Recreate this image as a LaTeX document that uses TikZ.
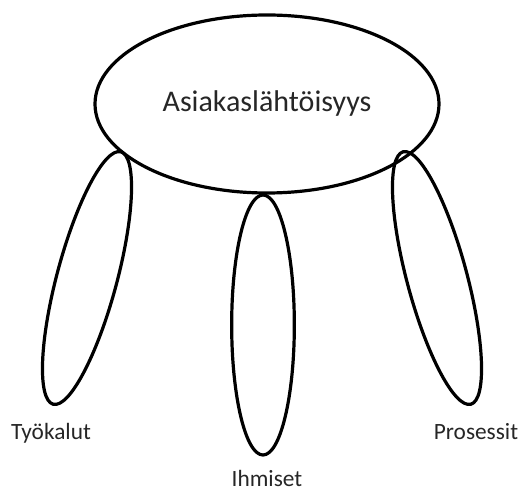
\documentclass[tikz,border=0pt]{standalone}
\usepackage{fontspec}
\setmainfont{Carlito}
\usetikzlibrary{shapes.geometric}

\tikzset{
  oval/.style={draw, ellipse, line width=2.4pt, inner sep=0pt},
  legtext/.style={anchor=base, font=\fontsize{17.5pt}{20pt}\selectfont, text=black!85}
}

\begin{document}
\begin{tikzpicture}[x=0.75pt,y=-0.75pt]
        \useasboundingbox (0,0) rectangle (531,491);
        \node[oval, minimum width=258pt, minimum height=133.5pt, font=\fontsize{22.5pt}{26pt}\selectfont, text=black!85] (asiakas) at (267,104) {Asiakaslähtöisyys};
        \node[oval, minimum width=45pt, minimum height=196pt, rotate=-15] (tyokalut) at (87,278) {};
        \node[oval, minimum width=47pt, minimum height=195pt] (ihmiset) at (263,325) {};
        \node[oval, minimum width=45pt, minimum height=196pt, rotate=15] (prosessit) at (437,278) {};
        \node[legtext] (tyokalutlabel) at (51,439) {Työkalut};
        \node[legtext] (ihmisetlabel) at (267,486) {Ihmiset};
        \node[legtext] (prosessitlabel) at (476,439) {Prosessit};
      \end{tikzpicture}
\end{document}
